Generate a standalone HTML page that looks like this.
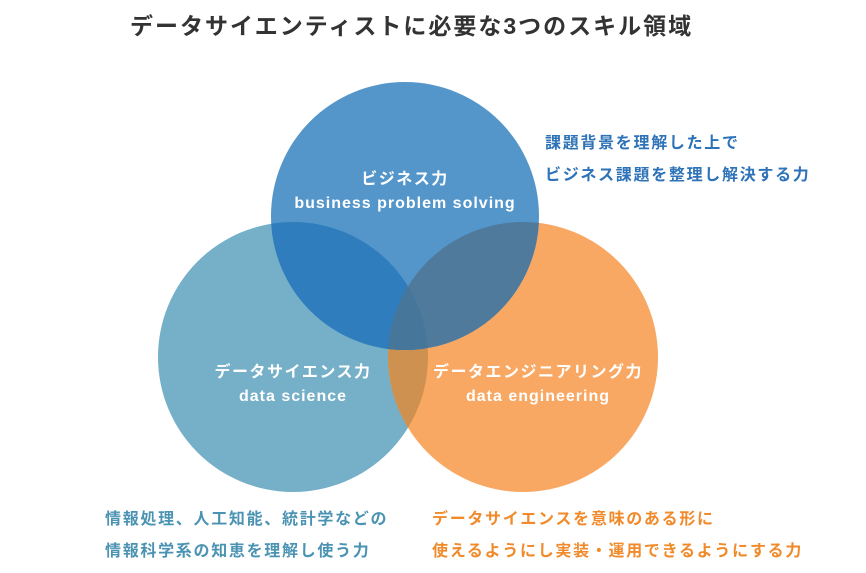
<!DOCTYPE html><html><head><meta charset="utf-8"><style>
body{margin:0;width:866px;height:568px;background:#fff;overflow:hidden;font-family:"Liberation Sans","Noto Sans CJK JP",sans-serif}
</style></head><body>
<svg width="866" height="568" viewBox="0 0 866 568" xmlns="http://www.w3.org/2000/svg" style="font-family:'Liberation Sans','Noto Sans CJK JP',sans-serif">
<defs>
<clipPath id="T"><circle cx="405" cy="216" r="134"/></clipPath>
<clipPath id="L"><circle cx="293" cy="357" r="135"/></clipPath>
</defs>
<text x="130" y="34" font-size="23" font-weight="bold" fill="#333" letter-spacing="2">データサイエンティストに必要な3つのスキル領域</text>
<circle cx="293" cy="357" r="135" fill="#75afc8"/>
<circle cx="523" cy="357" r="135" fill="#f8a862"/>
<circle cx="405" cy="216" r="134" fill="#5596ca"/>
<g clip-path="url(#L)"><circle cx="523" cy="357" r="135" fill="#cf9150"/></g>
<g clip-path="url(#T)"><circle cx="293" cy="357" r="135" fill="#2f7dbd"/><circle cx="523" cy="357" r="135" fill="#4f7a9c"/>
<g clip-path="url(#L)"><circle cx="523" cy="357" r="135" fill="#467699"/></g></g>
<g fill="#fff" font-size="16" font-weight="bold" text-anchor="middle">
<text x="405" y="184" letter-spacing="1.5">ビジネス力</text>
<text x="405" y="208" letter-spacing="1">business problem solving</text>
<text x="293" y="377" letter-spacing="1.5">データサイエンス力</text>
<text x="293" y="401" letter-spacing="1">data science</text>
<text x="538" y="377" letter-spacing="1.5">データエンジニアリング力</text>
<text x="538" y="401" letter-spacing="1">data engineering</text>
</g>
<g font-size="16" font-weight="bold" letter-spacing="1.7">
<text x="545" y="148" fill="#2e72b8">課題背景を理解した上で</text>
<text x="545" y="180" fill="#2e72b8">ビジネス課題を整理し解決する力</text>
<text x="105" y="524" fill="#4b93b3">情報処理、人工知能、統計学などの</text>
<text x="105" y="556" fill="#4b93b3">情報科学系の知恵を理解し使う力</text>
<text x="432" y="524" fill="#f08a2a">データサイエンスを意味のある形に</text>
<text x="432" y="556" fill="#f08a2a">使えるようにし実装・運用できるようにする力</text>
</g>
</svg>
</body></html>
